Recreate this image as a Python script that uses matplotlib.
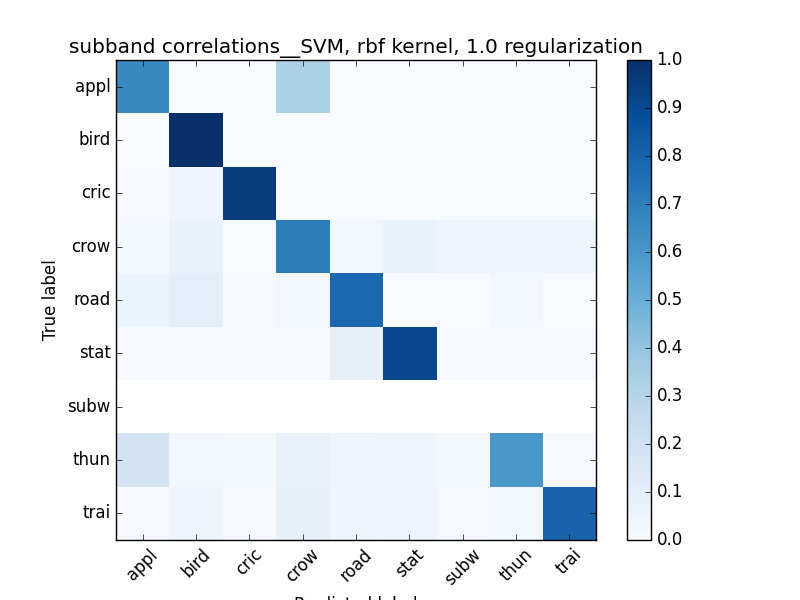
import numpy as np
import matplotlib
matplotlib.use('Agg')
import matplotlib.pyplot as plt

plt.style.use('classic')
labels = ['appl', 'bird', 'cric', 'crow', 'road', 'stat', 'subw', 'thun', 'trai']
row_appl = [0.66, 0.0, 0.0, 0.33, 0.0, 0.0, 0.0, 0.0, 0.0]
row_bird = [0.0, 1.0, 0.0, 0.0, 0.0, 0.0, 0.0, 0.0, 0.0]
row_cric = [0.01, 0.04, 0.95, 0.0, 0.0, 0.0, 0.0, 0.0, 0.0]
row_crow = [0.02, 0.07, 0.0, 0.70, 0.03, 0.07, 0.05, 0.04, 0.04]
row_road = [0.06, 0.10, 0.01, 0.03, 0.78, 0.0, 0.0, 0.02, 0.0]
row_stat = [0.01, 0.01, 0.01, 0.01, 0.08, 0.91, 0.01, 0.01, 0.01]
row_subw = [np.nan] * 9
row_thun = [0.18, 0.03, 0.02, 0.07, 0.05, 0.04, 0.02, 0.60, 0.01]
row_trai = [0.01, 0.05, 0.01, 0.08, 0.04, 0.05, 0.01, 0.03, 0.80]
cm = np.array([row_appl, row_bird, row_cric, row_crow, row_road,
               row_stat, row_subw, row_thun, row_trai])

fig = plt.figure(figsize=(8, 6), dpi=100, facecolor='white')
ax = fig.add_subplot(111)
im = ax.imshow(cm, interpolation='nearest', cmap=plt.cm.Blues, vmin=0, vmax=1)
ax.set_title('subband correlations__SVM, rbf kernel, 1.0 regularization')
cb = fig.colorbar(im, ticks=np.linspace(0, 1, 11))
ticks = np.arange(len(labels))
ax.set_xticks(ticks)
ax.set_xticklabels(labels, rotation=45)
ax.set_yticks(ticks)
ax.set_yticklabels(labels)
ax.set_ylabel('True label')
ax.set_xlabel('Predicted label')
fig.savefig('out.png', facecolor='white')
